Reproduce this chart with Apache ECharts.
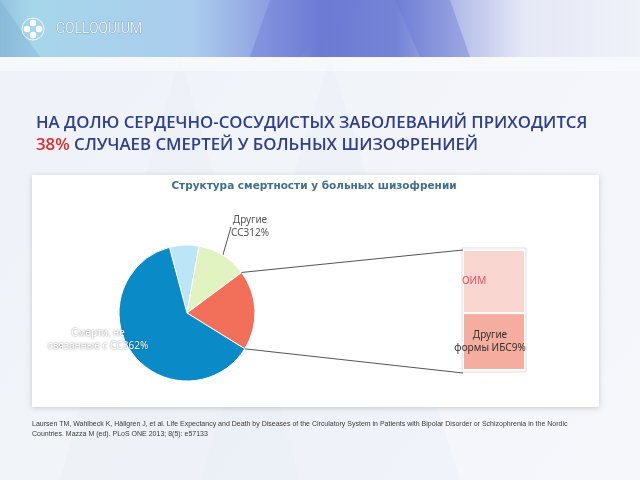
<!DOCTYPE html>
<html>
<head>
<meta charset="utf-8">
<script src="https://cdn.jsdelivr.net/npm/echarts@6/dist/echarts.min.js"></script>
<style>
html,body{margin:0;padding:0;background:#f1f4f9;}
#c{width:640px;height:480px;}
</style>
</head>
<body>
<div id="c"></div>
<script>
// ---- data ----
const pieNames = ['Инсульт', 'Другие ССЗ', 'ИБС', 'Смерти, не связанные с ССЗ'];
const pieLabels = ['', 'Другие\nССЗ', '', 'Смерти, не\nсвязанные с ССЗ'];
const pieValues = [7, 12, 19, 62];
const barNames = ['Другие формы ИБС', 'ОИМ'];
const barLabels = ['Другие\nформы ИБС', 'ОИМ'];
const barValues = [9, 10];
const barShowValue = [true, false];
const explodedIndex = 2;
const mainTitle1 = 'НА ДОЛЮ СЕРДЕЧНО-СОСУДИСТЫХ ЗАБОЛЕВАНИЙ ПРИХОДИТСЯ';
const mainTitleRed = '38%';
const mainTitle2 = ' СЛУЧАЕВ СМЕРТЕЙ У БОЛЬНЫХ ШИЗОФРЕНИЕЙ';
const chartTitle = 'Структура смертности у больных шизофрении';
const citation = 'Laursen TM, Wahlbeck K, Hällgren J, et al. Life Expectancy and Death by Diseases of the Circulatory System in Patients with Bipolar Disorder or Schizophrenia in the Nordic\nCountries. Mazza M (ed). PLoS ONE 2013; 8(5): e57133';

// ---- layout ----
const PIE_CX = 187, PIE_CY = 313, PIE_R = 68, START = 105;
const BAR_L = 463, BAR_W = 62, BAR_T = 250, BAR_H = 120;

const pieColors = ['#bde5f8', '#e1f3c1', '#f27059', '#0a8bc8'];
const barColors = ['#f5ad9f', '#fad6d0'];

const chart = echarts.init(document.getElementById('c'), null, {renderer: 'canvas'});

const bgGraphics = [
  {type: 'rect', z: -20, shape: {x: 0, y: 0, width: 640, height: 480},
   style: {fill: new echarts.graphic.LinearGradient(0, 0, 1, 1, [
     {offset: 0, color: '#eef2f8'}, {offset: 1, color: '#f6f7fb'}])}},
  {type: 'polygon', z: -19, shape: {points: [[180, 57], [300, 480], [60, 480]]},
   style: {fill: 'rgba(228,234,245,0.25)'}},
  {type: 'polygon', z: -19, shape: {points: [[330, 57], [460, 480], [200, 480]]},
   style: {fill: 'rgba(228,232,245,0.22)'}},
  {type: 'rect', z: -18, shape: {x: 0, y: 0, width: 640, height: 57},
   style: {fill: new echarts.graphic.LinearGradient(0, 0, 1, 0, [
     {offset: 0, color: '#93c4de'}, {offset: 0.05, color: '#a6d6ea'},
     {offset: 0.3, color: '#abcdee'}, {offset: 0.42, color: '#8e9fe0'},
     {offset: 0.5, color: '#6c7ad2'}, {offset: 0.62, color: '#7483d6'},
     {offset: 0.72, color: '#b6bfe9'}, {offset: 0.82, color: '#e5e9f6'},
     {offset: 1, color: '#eef1f8'}])}},
  {type: 'polygon', z: -17, shape: {points: [[0, 0], [40, 57], [0, 57]]},
   style: {fill: 'rgba(120,170,210,0.35)'}},
  {type: 'polygon', z: -17, shape: {points: [[270, 0], [365, 0], [300, 57], [250, 57]]},
   style: {fill: 'rgba(110,125,215,0.45)'}},
  {type: 'polygon', z: -17, shape: {points: [[395, 0], [450, 0], [470, 57], [420, 57]]},
   style: {fill: 'rgba(105,120,210,0.4)'}},
  {type: 'rect', z: -16, shape: {x: 0, y: 57, width: 640, height: 14},
   style: {fill: 'rgba(255,255,255,0.45)'}},
  // logo
  {type: 'circle', z: -15, shape: {cx: 33, cy: 29, r: 11},
   style: {fill: 'none', stroke: 'rgba(255,255,255,0.8)', lineWidth: 1}},
  {type: 'circle', z: -15, shape: {cx: 33, cy: 23, r: 3.2}, style: {fill: '#ffffff'}},
  {type: 'circle', z: -15, shape: {cx: 33, cy: 35, r: 3.2}, style: {fill: '#ffffff'}},
  {type: 'circle', z: -15, shape: {cx: 27, cy: 29, r: 3.2}, style: {fill: '#ffffff'}},
  {type: 'circle', z: -15, shape: {cx: 39, cy: 29, r: 3.2}, style: {fill: '#ffffff'}},
  {type: 'text', z: -15, style: {text: 'COLLOQUIUM', x: 56, y: 29, verticalAlign: 'middle',
   fill: '#ffffff', stroke: 'rgba(90,120,160,0.5)', lineWidth: 0.8,
   font: '300 14px Roboto'}},
  // chart box
  {type: 'rect', z: -10, shape: {x: 32, y: 175, width: 567, height: 232},
   style: {fill: '#ffffff', shadowBlur: 5, shadowColor: 'rgba(0,0,0,0.18)', shadowOffsetY: 1}},
  // bar outline
  {type: 'rect', z: -5, shape: {x: BAR_L - 1, y: BAR_T - 2, width: BAR_W + 2, height: BAR_H + 4},
   style: {fill: 'none', stroke: '#e6dcdc', lineWidth: 1}},
  {type: 'text', z: 1, style: {text: citation, x: 32, y: 419, fill: '#3a3a3a',
   font: '7px "Liberation Sans"', lineHeight: 10}}
];

const option = {
  animation: false,
  backgroundColor: 'transparent',
  title: [
    {left: 31, top: 107,
     text: '{a|' + mainTitle1 + '}\n{r|' + mainTitleRed + '}{a|' + mainTitle2 + '}',
     textStyle: {rich: {
       a: {fontFamily: 'Open Sans', fontWeight: 600, fontSize: 16.8, color: '#2e3f8c', lineHeight: 22},
       r: {fontFamily: 'Open Sans', fontWeight: 600, fontSize: 16.8, color: '#e02a2a', lineHeight: 22}}}},
    {left: 309, top: 176, textAlign: 'center', text: chartTitle,
     textStyle: {fontFamily: 'DejaVu Sans', fontWeight: 'bold', fontSize: 10.5, color: '#3f6f8a'}}
  ],
  grid: {left: BAR_L, top: BAR_T, width: BAR_W, height: BAR_H},
  xAxis: {type: 'category', data: ['ИБС'], show: false},
  yAxis: {type: 'value', min: 0, max: barValues.reduce((a, b) => a + b, 0), show: false},
  graphic: bgGraphics,
  series: [
    {
      type: 'pie', center: [PIE_CX, PIE_CY], radius: [0, PIE_R], startAngle: START,
      clockwise: true,
      data: pieValues.map((v, i) => ({
        name: pieNames[i], value: v,
        itemStyle: {color: pieColors[i]},
        label: {show: pieLabels[i] !== ''},
        labelLine: {show: i === 1}
      })),
      itemStyle: {borderColor: '#ffffff', borderWidth: 1},
      label: {
        formatter: p => pieLabels[p.dataIndex] + p.value + '%',
        fontFamily: 'Noto Sans', fontSize: 10, lineHeight: 13, align: 'center'
      },
      labelLine: {length: 8, length2: 0, lineStyle: {color: '#555', width: 1}},
      labelLayout: p => {
        if (p.dataIndex === 1) return {x: 250, y: 227, align: 'center', verticalAlign: 'middle'};
        if (p.dataIndex === 3) return {x: 98, y: 340, align: 'center', verticalAlign: 'middle'};
        return {};
      },
      emphasis: {disabled: true}
    },
    ...barValues.map((v, i) => ({
      type: 'bar', stack: 'ibs', name: barNames[i], data: [v], barWidth: '100%',
      itemStyle: {color: barColors[i], borderColor: '#ffffff', borderWidth: 1},
      label: {
        show: true,
        position: i === 1 ? 'insideLeft' : 'inside',
        offset: i === 1 ? [-6, 0] : [-4, 0],
        formatter: () => barLabels[i] + (barShowValue[i] ? v + '%' : ''),
        fontFamily: 'Noto Sans', fontSize: 10, lineHeight: 13,
        color: i === 1 ? '#e0506a' : '#333333'
      },
      emphasis: {disabled: true}
    }))
  ]
};
option.series[0].data[1].label.color = '#555555';
option.series[0].data[3].label = {show: true, color: '#ffffff',
  textShadowColor: 'rgba(0,0,0,0.55)', textShadowBlur: 2};

chart.setOption(option);

// connector lines from exploded slice edges to bar corners
const total = pieValues.reduce((a, b) => a + b, 0);
let before = 0;
for (let i = 0; i < explodedIndex; i++) before += pieValues[i];
const a1 = (START - before / total * 360) * Math.PI / 180;
const a2 = (START - (before + pieValues[explodedIndex]) / total * 360) * Math.PI / 180;
const p1 = [PIE_CX + PIE_R * Math.cos(a1), PIE_CY - PIE_R * Math.sin(a1)];
const p2 = [PIE_CX + PIE_R * Math.cos(a2), PIE_CY - PIE_R * Math.sin(a2)];
const yTop = chart.convertToPixel({yAxisIndex: 0}, barValues.reduce((a, b) => a + b, 0));
const yBot = chart.convertToPixel({yAxisIndex: 0}, 0);
chart.setOption({graphic: bgGraphics.concat([
  {type: 'line', z: 3, shape: {x1: p1[0], y1: p1[1], x2: BAR_L, y2: yTop},
   style: {stroke: '#555', lineWidth: 1}},
  {type: 'line', z: 3, shape: {x1: p2[0], y1: p2[1], x2: BAR_L, y2: yBot + 3},
   style: {stroke: '#555', lineWidth: 1}}
])});
</script>
</body>
</html>
